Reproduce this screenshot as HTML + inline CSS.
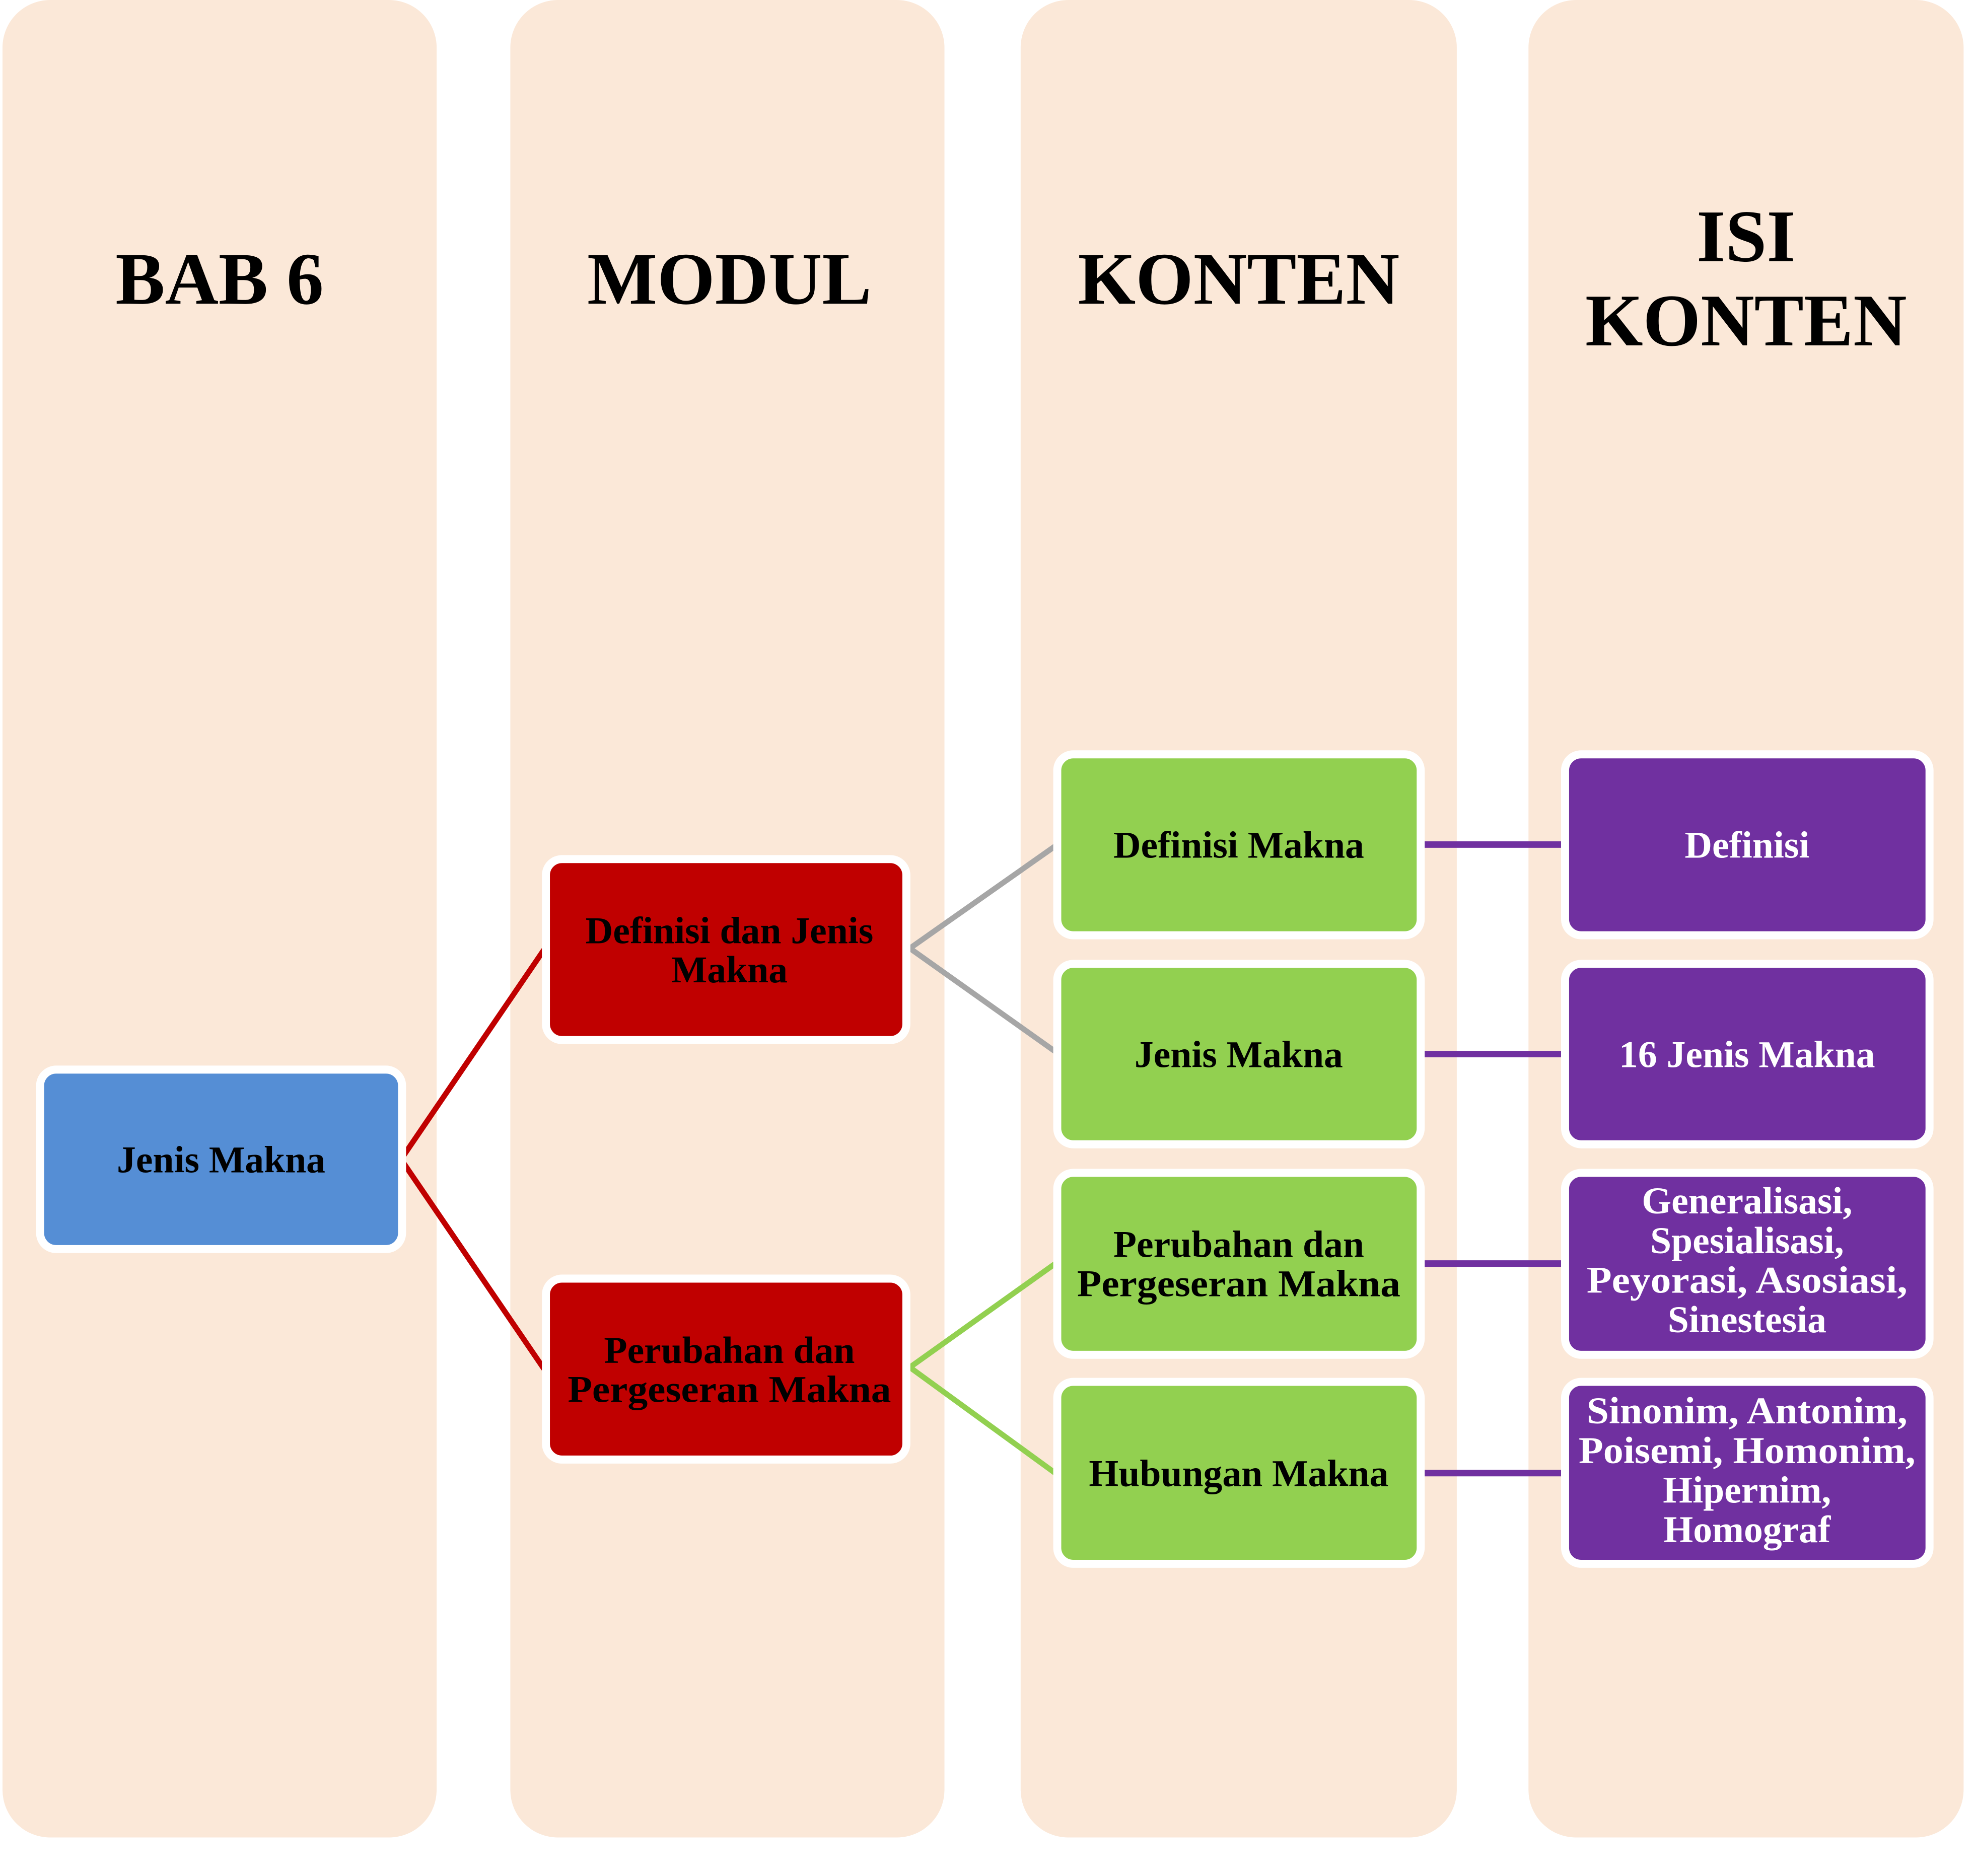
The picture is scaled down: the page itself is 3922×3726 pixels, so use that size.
<!DOCTYPE html>
<html><head><meta charset="utf-8"><style>
html,body{margin:0;padding:0;background:#fff;}
svg{display:block;}
text{font-family:"Liberation Serif",serif;font-weight:bold;text-anchor:middle;}
</style></head><body>
<svg width="3922" height="3726" viewBox="0 0 3922 3726" xmlns="http://www.w3.org/2000/svg">
<rect x="0" y="0" width="3922" height="3726" fill="#fff"/>
<g transform="scale(0.9955)">
<g fill="#fbe8d8">
<rect x="5" y="0" width="866" height="3666" rx="95"/>
<rect x="1018" y="0" width="866" height="3666" rx="95"/>
<rect x="2036" y="0" width="870" height="3666" rx="95"/>
<rect x="3049" y="0" width="868" height="3666" rx="95"/>
</g>
<g font-size="148" fill="#000">
<text x="438" y="606">BAB 6</text>
<text x="1455" y="606">MODUL</text>
<text x="2471" y="606">KONTEN</text>
<text x="3483" y="521">ISI</text>
<text x="3483" y="689">KONTEN</text>
</g>
<g stroke-width="11" fill="none">
<polyline points="1085,1895 800,2313 1085,2731" stroke="#c00000"/>
<polyline points="2105,1688 1815,1892 2105,2098" stroke="#a6a6a6"/>
<polyline points="2105,2521 1815,2728 2105,2939" stroke="#92d050"/>
<g stroke="#7030a0" stroke-width="13">
<line x1="2836" y1="1685" x2="3115" y2="1685"/>
<line x1="2836" y1="2103" x2="3115" y2="2103"/>
<line x1="2836" y1="2521" x2="3115" y2="2521"/>
<line x1="2836" y1="2939" x2="3115" y2="2939"/>
</g>
</g>
<g stroke="#fff" stroke-width="16">
<rect x="80" y="2134" width="722" height="358" rx="32" fill="#558ed5"/>
<rect x="1089" y="1714" width="719" height="361" rx="32" fill="#c00000"/>
<rect x="1089" y="2551" width="719" height="361" rx="32" fill="#c00000"/>
<rect x="2109" y="1505" width="725" height="361" rx="32" fill="#92d050"/>
<rect x="2109" y="1923" width="725" height="360" rx="32" fill="#92d050"/>
<rect x="2109" y="2340" width="725" height="363" rx="32" fill="#92d050"/>
<rect x="2109" y="2757" width="725" height="363" rx="32" fill="#92d050"/>
<rect x="3122" y="1505" width="727" height="361" rx="32" fill="#7030a0"/>
<rect x="3122" y="1923" width="727" height="360" rx="32" fill="#7030a0"/>
<rect x="3122" y="2340" width="727" height="363" rx="32" fill="#7030a0"/>
<rect x="3122" y="2757" width="727" height="363" rx="32" fill="#7030a0"/>
</g>
<g font-size="76" fill="#000">
<text x="441" y="2339">Jenis Makna</text>
<text x="1455" y="1882">Definisi dan Jenis</text>
<text x="1455" y="1960">Makna</text>
<text x="1455" y="2719">Perubahan dan</text>
<text x="1455" y="2797" textLength="645" lengthAdjust="spacingAndGlyphs">Pergeseran Makna</text>
<text x="2471" y="1711">Definisi Makna</text>
<text x="2471" y="2129">Jenis Makna</text>
<text x="2471" y="2508">Perubahan dan</text>
<text x="2471" y="2586" textLength="645" lengthAdjust="spacingAndGlyphs">Pergeseran Makna</text>
<text x="2471" y="2965">Hubungan Makna</text>
</g>
<g font-size="76" fill="#fff">
<text x="3485" y="1711">Definisi</text>
<text x="3485" y="2129">16 Jenis Makna</text>
<text x="3485" y="2421">Generalisasi,</text>
<text x="3485" y="2500">Spesialisasi,</text>
<text x="3485" y="2579" textLength="640" lengthAdjust="spacingAndGlyphs">Peyorasi, Asosiasi,</text>
<text x="3485" y="2658">Sinestesia</text>
<text x="3485" y="2840" textLength="640" lengthAdjust="spacingAndGlyphs">Sinonim, Antonim,</text>
<text x="3485" y="2919" textLength="672" lengthAdjust="spacingAndGlyphs">Poisemi, Homonim,</text>
<text x="3485" y="2998">Hipernim,</text>
<text x="3485" y="3077">Homograf</text>
</g>
</g>
</svg>
</body></html>
